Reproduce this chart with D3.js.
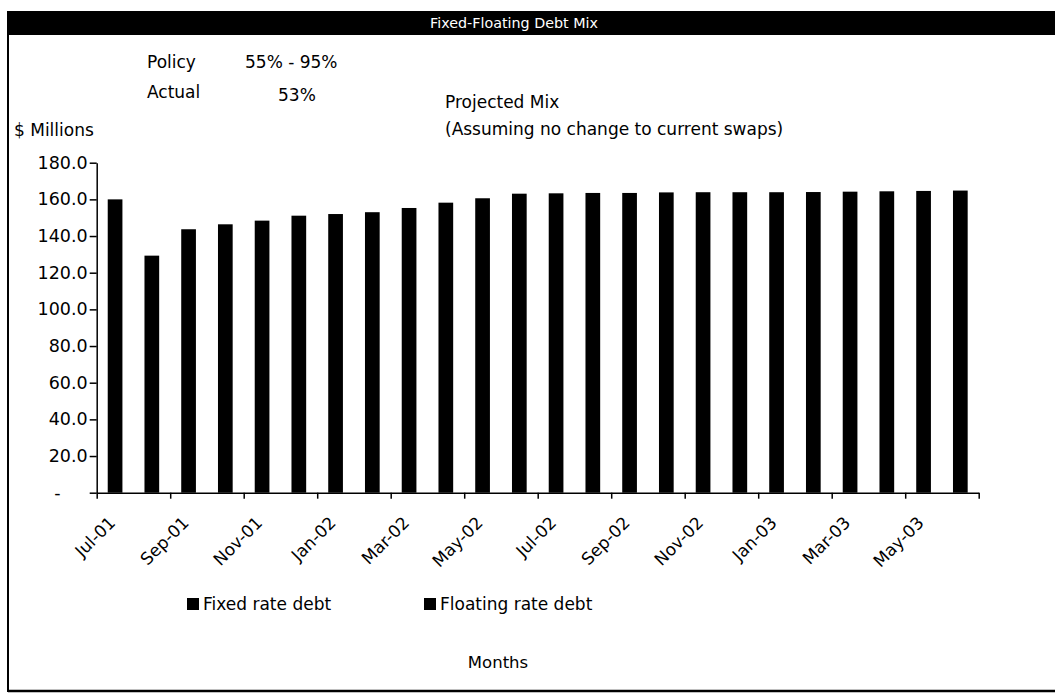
<!DOCTYPE html>
<html>
<head>
<meta charset="utf-8">
<script src="https://cdn.jsdelivr.net/npm/d3@7/dist/d3.min.js"></script>
<style>
  html, body { margin: 0; padding: 0; background: #fff; }
  svg { display: block; }
  text { font-family: "DejaVu Sans", sans-serif; fill: #000; }
</style>
</head>
<body>
<svg id="chart" width="1055" height="696"></svg>
<script>
// Month categories, Jul-01 through Jun-03
const months = ["Jul-01","Aug-01","Sep-01","Oct-01","Nov-01","Dec-01",
                "Jan-02","Feb-02","Mar-02","Apr-02","May-02","Jun-02",
                "Jul-02","Aug-02","Sep-02","Oct-02","Nov-02","Dec-02",
                "Jan-03","Feb-03","Mar-03","Apr-03","May-03","Jun-03"];

// Total debt ($ millions) per month, fixed + floating
const totalDebt = [160.0, 129.3, 143.7, 146.4, 148.4, 151.1,
                   152.0, 153.0, 155.3, 158.2, 160.6, 163.1,
                   163.3, 163.5, 163.5, 163.8, 163.9, 163.9,
                   163.9, 164.0, 164.2, 164.4, 164.6, 164.8];

const yTicks = [0, 20, 40, 60, 80, 100, 120, 140, 160, 180];
const seriesNames = ["Fixed rate debt", "Floating rate debt"];

const svg = d3.select("#chart");

// Frame and title bar
svg.append("rect").attr("x", 8).attr("y", 11).attr("width", 1047).attr("height", 24).attr("fill", "#000");
svg.append("line").attr("x1", 8).attr("x2", 8).attr("y1", 11).attr("y2", 692)
   .attr("stroke", "#000").attr("stroke-width", 2);
svg.append("line").attr("x1", 8).attr("x2", 1055).attr("y1", 691).attr("y2", 691)
   .attr("stroke", "#000").attr("stroke-width", 2.5);
svg.append("text").attr("x", 514).attr("y", 28).attr("text-anchor", "middle")
   .style("fill", "#fff").style("font-size", "14.3px").text("Fixed-Floating Debt Mix");

// Header notes
const notes = [
  {t: "Policy", x: 147, y: 68},
  {t: "55% - 95%", x: 245, y: 68},
  {t: "Actual", x: 147, y: 98},
  {t: "53%", x: 278, y: 101},
  {t: "Projected Mix", x: 445, y: 108},
  {t: "(Assuming no change to current swaps)", x: 445, y: 135},
  {t: "$ Millions", x: 14, y: 136}
];
svg.selectAll("text.note").data(notes).enter().append("text")
   .attr("class", "note").attr("x", d => d.x).attr("y", d => d.y)
   .style("font-size", "17px").text(d => d.t);

// Plot area
const x0 = 96.7, x1 = 978.7, yBase = 492.7, yTop = 162.7;

const x = d3.scaleBand().domain(months).range([x0, x1])
  .paddingInner(0.6).paddingOuter(0.3);
const xEdge = d3.scaleLinear().domain([0, months.length]).range([x0, x1]);
const y = d3.scaleLinear().domain([0, 180]).range([yBase, yTop]);

// Bars
svg.append("g").selectAll("rect").data(totalDebt).enter().append("rect")
   .attr("x", (d, i) => x(months[i]))
   .attr("width", x.bandwidth())
   .attr("y", d => y(d))
   .attr("height", d => yBase - y(d))
   .attr("fill", "#000");

// Y axis
const yAxis = svg.append("g").attr("transform", `translate(${x0},0)`)
  .call(d3.axisLeft(y).tickValues(yTicks).tickSize(7).tickSizeOuter(0).tickPadding(2)
        .tickFormat(d => d === 0 ? "-" : d.toFixed(1)));
yAxis.selectAll("text").style("font-size", "17.5px").style("font-family", "DejaVu Sans, sans-serif");
yAxis.selectAll(".tick").filter(d => d === 0).select("text").attr("x", -36);

// X axis: ticks at every second month boundary
const edgeTicks = d3.range(0, months.length + 1, 2);
svg.append("g").attr("transform", `translate(0,${yBase})`)
  .call(d3.axisBottom(xEdge).tickValues(edgeTicks).tickSize(6).tickSizeOuter(0).tickFormat(""));
svg.selectAll(".domain, .tick line").attr("stroke", "#000").attr("stroke-width", 1.5);

// Rotated month labels on every second category
const labelled = months.filter((m, i) => i % 2 === 0);
svg.append("g").selectAll("text").data(labelled).enter().append("text")
   .attr("transform", d => `translate(${x(d) + x.bandwidth() / 2 - 3},${yBase + 27}) rotate(-45)`)
   .attr("text-anchor", "end")
   .attr("dy", "0.35em")
   .style("font-size", "17px")
   .text(d => d);

// Legend
const legendX = [187, 424];
const legend = svg.append("g").selectAll("g").data(seriesNames).enter().append("g")
  .attr("transform", (d, i) => `translate(${legendX[i]},598)`);
legend.append("rect").attr("width", 12).attr("height", 12).attr("fill", "#000");
legend.append("text").attr("x", 16).attr("y", 12).style("font-size", "17px").text(d => d);

// Axis title
svg.append("text").attr("x", 498).attr("y", 668).attr("text-anchor", "middle")
   .style("font-size", "16.5px").text("Months");
</script>
</body>
</html>
